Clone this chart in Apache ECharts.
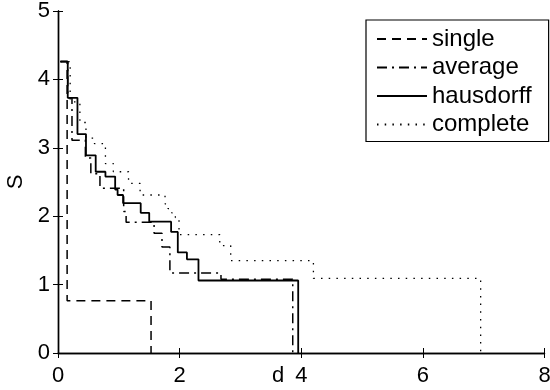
<!DOCTYPE html>
<html><head><meta charset="utf-8">
<script src="https://cdn.jsdelivr.net/npm/echarts@6/dist/echarts.min.js"></script>
<style>html,body{margin:0;padding:0;background:#fff}#c{width:550px;height:390px}</style>
</head><body><div id="c"></div>
<script>
// ---- data ----
const seriesNames = ['single', 'average', 'hausdorff', 'complete'];
const singleData = [[0.04, 4.26], [0.15, 0.765], [1.53, 0]];
const averageData = [[0.04, 4.26], [0.16, 3.73], [0.23, 3.11], [0.45, 2.85], [0.54, 2.62], [0.69, 2.41],
  [1.08, 2.07], [1.12, 1.91], [1.58, 1.75], [1.71, 1.55], [1.84, 1.17], [2.68, 1.08], [3.86, 0]];
const hausdorffData = [[0.04, 4.26], [0.16, 3.73], [0.32, 3.20], [0.46, 2.89], [0.62, 2.65], [0.78, 2.58],
  [0.94, 2.39], [0.98, 2.31], [1.07, 2.19], [1.36, 2.05], [1.50, 1.92], [1.86, 1.77], [1.97, 1.47],
  [2.12, 1.37], [2.31, 1.06], [3.95, 0]];
const completeData = [[0.04, 4.26], [0.20, 3.67], [0.36, 3.37], [0.46, 3.14], [0.60, 3.06], [0.78, 2.77],
  [0.91, 2.65], [1.16, 2.48], [1.35, 2.31], [1.76, 2.18], [1.81, 2.11], [1.87, 2.05], [1.93, 1.98],
  [1.99, 1.73], [2.66, 1.57], [2.84, 1.35], [4.20, 1.09], [6.95, 0]];
const xRange = [0, 8], xStep = 2;
const yRange = [0, 5], yStep = 1;
const yAxisName = 'S';
const dLabel = 'd', dValue = 3.62;

// ---- chart ----
const FONT = 'Liberation Sans, Arial, Helvetica, sans-serif';
const chart = echarts.init(document.getElementById('c'), null, {renderer: 'canvas'});
const axisLine = {show: true, lineStyle: {color: '#000', width: 1.4}};
const tick = {show: true, inside: true, length: 5, lineStyle: {color: '#000', width: 1}};
const lbl = {color: '#000', fontSize: 22, fontFamily: FONT};
const styles = [
  {type: [9, 6], width: 1.5},
  {type: [10, 5, 2, 5], width: 1.5},
  {type: 'solid', width: 1.8},
  {type: [1.5, 6.2], width: 1.3}
];
const datas = [singleData, averageData, hausdorffData, completeData];
chart.setOption({
  animation: false,
  backgroundColor: '#fff',
  grid: {left: 58, right: 5.5, top: 11, bottom: 37, containLabel: false, outerBoundsMode: 'none'},
  xAxis: [
    {type: 'value', min: xRange[0], max: xRange[1], interval: xStep, position: 'bottom',
     axisLine, axisTick: tick, splitLine: {show: false},
     axisLabel: Object.assign({margin: 12, hideOverlap: false}, lbl)},
    {type: 'value', min: xRange[0], max: xRange[1], interval: xStep, position: 'top',
     axisLine, axisTick: tick, splitLine: {show: false}, axisLabel: {show: false}}
  ],
  yAxis: [
    {type: 'value', min: yRange[0], max: yRange[1], interval: yStep, position: 'left',
     axisLine, axisTick: tick, splitLine: {show: false},
     axisLabel: Object.assign({margin: 8}, lbl),
     name: yAxisName, nameLocation: 'middle', nameGap: 26, nameRotate: 90,
     nameTextStyle: {color: '#000', fontSize: 22, fontFamily: FONT}},
    {type: 'value', min: yRange[0], max: yRange[1], interval: yStep, position: 'right',
     axisLine, axisTick: tick, splitLine: {show: false}, axisLabel: {show: false}}
  ],
  legend: {
    orient: 'vertical', left: 366, top: 20,
    padding: [7, 17, 5, 10], itemGap: 4.5, itemWidth: 50, itemHeight: 2,
    itemStyle: {opacity: 0},
    backgroundColor: '#fff', borderColor: '#000', borderWidth: 1.2,
    textStyle: {color: '#000', fontSize: 24, fontFamily: FONT, lineHeight: 22},
    data: seriesNames
  },
  series: seriesNames.map((n, i) => ({
    name: n, type: 'line', step: 'end', symbol: 'none', showSymbol: false,
    xAxisIndex: 0, yAxisIndex: 0,
    color: '#000',
    lineStyle: {color: '#000', width: styles[i].width, type: styles[i].type},
    data: datas[i]
  }))
});
const dx = chart.convertToPixel({xAxisIndex: 0}, dValue);
const y0 = chart.convertToPixel({yAxisIndex: 0}, yRange[0]);
chart.setOption({
  graphic: [{type: 'text', x: dx, y: y0 + 12,
    style: {text: dLabel, fill: '#000', fontSize: 22, fontFamily: FONT, align: 'center', verticalAlign: 'top'}}]
});
</script>
</body></html>
